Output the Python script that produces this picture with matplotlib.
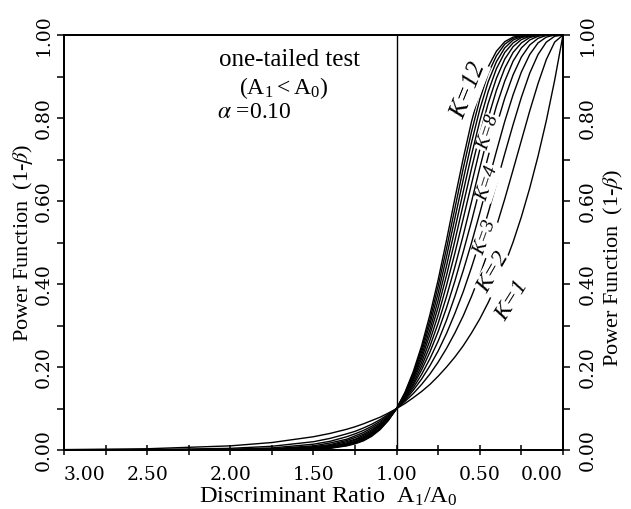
import matplotlib
matplotlib.use('Agg')
import matplotlib.pyplot as plt

# ratio A1/A0 (x) and power (1-beta) for each K
ratio = [0.00, 0.05, 0.10, 0.15, 0.20, 0.25, 0.30, 0.35, 0.40, 0.45,
         0.50, 0.55, 0.60, 0.65, 0.70, 0.75, 0.80, 0.85, 0.90, 0.95,
         1.00, 1.05, 1.10, 1.15, 1.20, 1.25, 1.30, 1.40, 1.50, 1.75,
         2.00, 2.50, 3.00]

k1 = [1.000, 0.891, 0.794, 0.708, 0.631, 0.562, 0.501, 0.447, 0.398, 0.355,
      0.316, 0.282, 0.251, 0.224, 0.200, 0.178, 0.158, 0.141, 0.126, 0.112,
      0.100, 0.089, 0.079, 0.071, 0.063, 0.056, 0.050, 0.040, 0.032, 0.018,
      0.010, 0.003, 0.001]
k2 = [1.000, 0.983, 0.941, 0.883, 0.817, 0.746, 0.675, 0.605, 0.539, 0.478,
      0.421, 0.370, 0.323, 0.282, 0.245, 0.212, 0.183, 0.158, 0.136, 0.117,
      0.100, 0.086, 0.073, 0.062, 0.053, 0.045, 0.039, 0.028, 0.020, 0.009,
      0.004, 0.001, 0.000]
k3 = [1.000, 0.997, 0.983, 0.953, 0.908, 0.850, 0.784, 0.714, 0.642, 0.571,
      0.503, 0.440, 0.381, 0.329, 0.281, 0.239, 0.203, 0.171, 0.144, 0.120,
      0.100, 0.083, 0.069, 0.057, 0.047, 0.039, 0.032, 0.021, 0.014, 0.005,
      0.002, 0.000, 0.000]
k4 = [1.000, 1.000, 0.995, 0.981, 0.953, 0.911, 0.856, 0.792, 0.720, 0.646,
      0.571, 0.499, 0.432, 0.370, 0.313, 0.263, 0.220, 0.182, 0.150, 0.123,
      0.100, 0.081, 0.065, 0.053, 0.042, 0.034, 0.026, 0.017, 0.010, 0.003,
      0.001, 0.000, 0.000]
k5 = [1.000, 1.000, 0.999, 0.992, 0.976, 0.947, 0.904, 0.848, 0.781, 0.707,
      0.630, 0.551, 0.477, 0.407, 0.343, 0.286, 0.236, 0.193, 0.156, 0.125,
      0.100, 0.079, 0.062, 0.049, 0.038, 0.030, 0.023, 0.013, 0.008, 0.002,
      0.000, 0.000, 0.000]
k6 = [1.000, 1.000, 1.000, 0.997, 0.988, 0.969, 0.937, 0.889, 0.829, 0.758,
      0.680, 0.598, 0.517, 0.441, 0.370, 0.306, 0.250, 0.202, 0.161, 0.128,
      0.100, 0.078, 0.060, 0.046, 0.035, 0.026, 0.020, 0.011, 0.006, 0.001,
      0.000, 0.000, 0.000]
k7 = [1.000, 1.000, 1.000, 0.999, 0.994, 0.981, 0.958, 0.920, 0.867, 0.800,
      0.724, 0.641, 0.557, 0.474, 0.397, 0.326, 0.264, 0.211, 0.167, 0.130,
      0.100, 0.076, 0.058, 0.043, 0.032, 0.024, 0.017, 0.009, 0.005, 0.001,
      0.000, 0.000, 0.000]
k8 = [1.000, 1.000, 1.000, 0.999, 0.997, 0.989, 0.972, 0.942, 0.896, 0.835,
      0.761, 0.678, 0.591, 0.504, 0.421, 0.345, 0.278, 0.220, 0.172, 0.132,
      0.100, 0.075, 0.056, 0.041, 0.030, 0.021, 0.015, 0.008, 0.004, 0.000,
      0.000, 0.000, 0.000]
k9 = [1.000, 1.000, 1.000, 1.000, 0.998, 0.994, 0.981, 0.958, 0.919, 0.863,
      0.793, 0.711, 0.622, 0.532, 0.444, 0.362, 0.290, 0.228, 0.176, 0.134,
      0.100, 0.074, 0.054, 0.039, 0.028, 0.019, 0.014, 0.006, 0.003, 0.000,
      0.000, 0.000, 0.000]
k10 = [1.000, 1.000, 1.000, 1.000, 0.999, 0.996, 0.988, 0.969, 0.936, 0.887,
       0.821, 0.741, 0.651, 0.558, 0.466, 0.379, 0.303, 0.236, 0.181, 0.136,
       0.100, 0.073, 0.052, 0.037, 0.026, 0.018, 0.012, 0.005, 0.002, 0.000,
       0.000, 0.000, 0.000]
k11 = [1.000, 1.000, 1.000, 1.000, 1.000, 0.998, 0.992, 0.978, 0.950, 0.907,
       0.845, 0.767, 0.678, 0.582, 0.486, 0.396, 0.314, 0.244, 0.185, 0.137,
       0.100, 0.072, 0.050, 0.035, 0.024, 0.016, 0.011, 0.005, 0.002, 0.000,
       0.000, 0.000, 0.000]
k12 = [1.000, 1.000, 1.000, 1.000, 1.000, 0.999, 0.995, 0.984, 0.961, 0.923,
       0.866, 0.791, 0.702, 0.606, 0.506, 0.411, 0.326, 0.251, 0.189, 0.139,
       0.100, 0.071, 0.049, 0.033, 0.022, 0.015, 0.010, 0.004, 0.002, 0.000,
       0.000, 0.000, 0.000]

curves = [k1, k2, k3, k4, k5, k6, k7, k8, k9, k10, k11, k12]

# curve labels: text, x, y, rotation, size
labels = [('K=12', 0.565, 0.865, 68, 18),
          ('K=8', 0.445, 0.764, 72, 14),
          ('K=4', 0.451, 0.643, 72, 14),
          ('K=3', 0.469, 0.511, 70, 14),
          ('K=2', 0.421, 0.427, 60, 17),
          ('K=1', 0.307, 0.361, 58, 17)]

xticks = [3.0, 2.5, 2.0, 1.5, 1.0, 0.5, 0.0]
yticks = [0.0, 0.2, 0.4, 0.6, 0.8, 1.0]

plt.rcParams['font.family'] = ['Liberation Serif', 'DejaVu Serif']
plt.rcParams['mathtext.fontset'] = 'stix'

fig = plt.figure(figsize=(6.31, 5.09), dpi=100)
ax = fig.add_axes([0.1014, 0.1159, 0.7908, 0.8153])

for vals in curves:
    ax.plot(ratio, vals, color='black', lw=1.0)

ax.axvline(1.0, color='black', lw=1.0)

ax.set_xlim(3.0, 0.0)
ax.set_ylim(0.0, 1.0)

tick_font = {'family': 'DejaVu Serif', 'size': 13.5}

ax.set_xticks(xticks)
ax.set_xticks([2.75, 2.25, 1.75, 1.25, 0.75, 0.25], minor=True)
xl = ax.set_xticklabels(['%.2f' % v for v in xticks], fontdict=tick_font)
xl[0].set_horizontalalignment('left')
xl[-1].set_horizontalalignment('right')
ax.tick_params(axis='x', which='both', direction='inout', length=7,
               width=1.1, pad=8, top=False)

ax.set_yticks(yticks)
ax.set_yticks([0.1, 0.3, 0.5, 0.7, 0.9], minor=True)
ax.set_yticklabels(['%.2f' % v for v in yticks], fontdict=tick_font,
                   rotation=90, va='center')
ax.tick_params(axis='y', which='both', direction='out', length=5,
               width=1.1, pad=3)

ax2 = ax.twinx()
ax2.set_ylim(0.0, 1.0)
ax2.set_yticks(yticks)
ax2.set_yticks([0.1, 0.3, 0.5, 0.7, 0.9], minor=True)
ax2.set_yticklabels(['%.2f' % v for v in yticks], fontdict=tick_font,
                    rotation=90, va='center')
ax2.tick_params(axis='y', which='both', direction='out', length=5,
                width=1.1, pad=6)

for a in (ax, ax2):
    for s in a.spines.values():
        s.set_linewidth(1.4)

ax.set_xlabel(r'Discriminant Ratio  $\mathregular{A_1/A_0}$', fontsize=17.5)
ax.xaxis.set_label_coords(0.53, -0.085)
ax.set_ylabel(r'Power Function  (1-$\beta$)', fontsize=16)
ax.yaxis.set_label_coords(-0.058, 0.5)
ax2.set_ylabel(r'Power Function  (1-$\beta$)', fontsize=16)
ax2.yaxis.set_label_coords(1.076, 0.44)

ax.text(2.07, 0.940, 'one-tailed test', fontsize=18, ha='left', va='center')
ax.text(1.95, 0.872, r'($\mathregular{A_1 < A_0}$)',
        fontsize=17, ha='left', va='center')
ax.text(2.08, 0.814, r'$\alpha$ =0.10', fontsize=17, ha='left', va='center')

for txt, x, y, rot, size in labels:
    ax.text(x, y, txt, fontsize=size, style='italic', rotation=rot,
            ha='center', va='center', rotation_mode='anchor',
            bbox=dict(facecolor='white', edgecolor='none', pad=0.5))

fig.savefig('out.png', dpi=100)
